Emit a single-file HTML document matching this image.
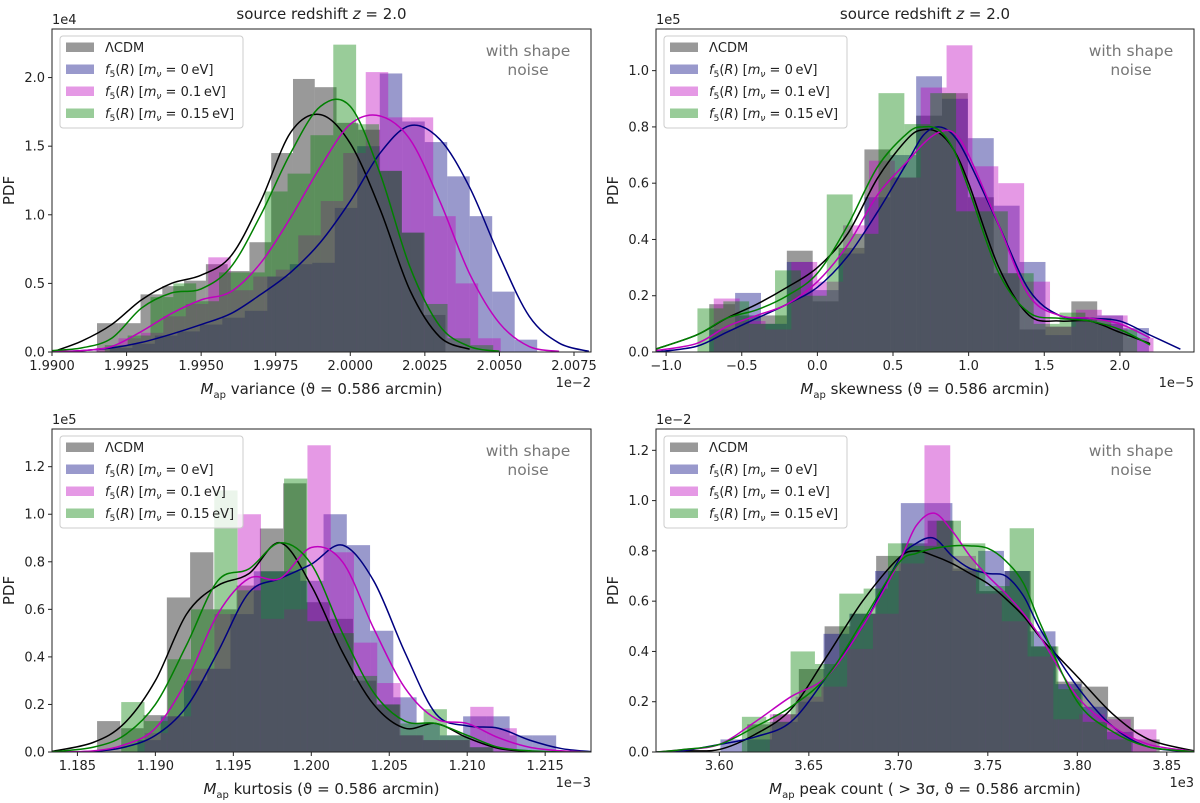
<!DOCTYPE html>
<html><head><meta charset="utf-8"><style>
html,body{margin:0;padding:0;background:#fff;}
svg{display:block;font-family:"DejaVu Sans","Liberation Sans",sans-serif;}
</style></head><body>
<svg id="chart" width="1200" height="803" viewBox="0 0 1200 803" xmlns="http://www.w3.org/2000/svg"></svg>
<script>
// ---------- Panel 1: variance (x in 1e-2, y in 1e4) ----------
const p1Start = [1.991509, 1.99194, 1.99147, 1.99177];
const p1Width = [0.00073, 0.000754, 0.000754, 0.000766];
const p1Gray = [0.21,0.21,0.42,0.48,0.52,0.64,0.59,0.80,1.45,1.99,1.93,1.67,1.62,1.32,0.87,0.27];
const p1Blue = [0.03,0.06,0.12,0.15,0.2,0.25,0.3,0.55,0.64,0.65,1.05,1.5,2.03,1.68,1.53,1.28,0.99,0.44,0.09];
const p1Mag = [0.03,0.1,0.14,0.26,0.35,0.69,0.45,0.55,0.6,0.85,1.1,1.45,2.04,1.71,1.71,0.99,0.5,0.1];
const p1Green = [0.05,0.12,0.4,0.5,0.37,0.58,0.58,1.17,1.3,1.58,2.24,1.66,1.32,0.87,0.35,0.1,0.05];
const p1KdeX = [1.990,1.991,1.992,1.993,1.994,1.995,1.996,1.997,1.998,1.999,2.000,2.001,2.002,2.003,2.004,2.005,2.006,2.007,2.008];
const p1KdeBlack = [0.0,0.08,0.2,0.38,0.5,0.56,0.7,1.1,1.6,1.73,1.52,1.04,0.45,0.11,0.02,null,null,null,null];
const p1KdeBlue = [0,0.01,0.03,0.07,0.13,0.2,0.28,0.42,0.58,0.8,1.1,1.45,1.65,1.55,1.2,0.7,0.26,0.065,0.005];
const p1KdeMag = [0.005,0.01,0.04,0.15,0.28,0.38,0.44,0.65,0.98,1.35,1.66,1.72,1.55,1.1,0.57,0.21,0.04,0.005,null];
const p1KdeGreen = [0.01,0.03,0.1,0.32,0.43,0.46,0.62,1.0,1.45,1.79,1.79,1.3,0.62,0.19,0.04,0.005,null,null,null];
const p1XTicks = ["1.9900","1.9925","1.9950","1.9975","2.0000","2.0025","2.0050","2.0075"];
const p1YTicks = ["0.0","0.5","1.0","1.5","2.0"];

// ---------- Panel 2: skewness (x in 1e-5, y in 1e5) ----------
const p2Start = [-0.715, -0.715, -0.685, -0.793];
const p2Width = [0.171, 0.171, 0.171, 0.171];
const p2Gray = [0.17,0.13,0.13,0.36,0.18,0.37,0.72,0.62,0.84,0.92,0.55,0.28,0.08,0.09,0.18,0.1];
const p2Blue = [0.08,0.21,0.1,0.32,0.22,0.35,0.55,0.7,0.98,0.9,0.76,0.52,0.32,0.06,0.12,0.13,0.085];
const p2Mag = [0.19,0.11,0.08,0.32,0.25,0.45,0.68,0.62,0.94,1.09,0.66,0.6,0.25,0.09,0.15,0.13,0.05];
const p2Green = [0.155,0.18,0.1,0.29,0.2,0.56,0.42,0.92,0.81,0.92,0.5,0.5,0.28,0.1,0.14,0.12,0.08];
const p2KdeX = [-1.07,-0.8,-0.6,-0.4,-0.2,0,0.2,0.4,0.6,0.7,0.8,0.9,1.0,1.2,1.4,1.6,1.8,2.0,2.2,2.4];
const p2KdeBlack = [0.01,0.06,0.12,0.17,0.23,0.3,0.42,0.62,0.76,0.79,0.78,0.72,0.6,0.3,0.13,0.11,0.11,0.07,0.03,null];
const p2KdeBlue = [0.0,0.02,0.07,0.12,0.17,0.23,0.34,0.5,0.68,0.77,0.8,0.77,0.68,0.45,0.22,0.13,0.12,0.11,0.06,0.01];
const p2KdeMag = [0.005,0.03,0.09,0.13,0.17,0.25,0.38,0.56,0.68,0.74,0.78,0.78,0.7,0.45,0.2,0.13,0.12,0.1,0.05,null];
const p2KdeGreen = [0.01,0.06,0.12,0.15,0.2,0.28,0.45,0.66,0.78,0.8,0.79,0.72,0.58,0.28,0.14,0.12,0.11,0.08,0.025,null];
const p2XTicks = ["\u22121.0","\u22120.5","0.0","0.5","1.0","1.5","2.0"];
const p2YTicks = ["0.0","0.2","0.4","0.6","0.8","1.0"];

// ---------- Panel 3: kurtosis (x in 1e-3, y in 1e5) ----------
const p3Start = [1.18626, 1.18885, 1.18931, 1.18781];
const p3Width = [0.001492, 0.001492, 0.001492, 0.001492];
const p3Gray = [0.13,0.1,0.155,0.65,0.84,0.6,0.7,0.94,1.13,0.63,0.56,0.3,0.2,0.07,0.05,0.05,0.02];
const p3Blue = [0.05,0.15,0.3,0.35,0.58,0.76,0.76,0.72,1.0,0.87,0.51,0.23,0.12,0.07,0.15,0.15,0.07,0.07];
const p3Mag = [0.08,0.15,0.35,0.58,1.0,0.56,0.6,1.29,0.84,0.46,0.29,0.07,0.05,0.05,0.19,0.1];
const p3Green = [0.21,0.13,0.39,0.6,1.1,0.68,0.76,1.15,0.55,0.5,0.32,0.2,0.12,0.18,0.07,0.02];
const p3KdeX = [1.1834,1.186,1.188,1.190,1.192,1.194,1.196,1.198,1.200,1.202,1.204,1.206,1.208,1.210,1.212,1.214,1.216,1.2179];
const p3KdeBlack = [0.003,0.04,0.12,0.3,0.58,0.7,0.75,0.88,0.7,0.42,0.2,0.1,0.12,0.06,0.015,0.003,0,0];
const p3KdeBlue = [0,0.003,0.02,0.07,0.19,0.42,0.67,0.73,0.79,0.87,0.72,0.42,0.16,0.11,0.1,0.05,0.015,0.002];
const p3KdeMag = [0,0.005,0.03,0.1,0.3,0.58,0.73,0.73,0.86,0.8,0.52,0.27,0.14,0.12,0.06,0.02,0.005,0];
const p3KdeGreen = [0.001,0.02,0.07,0.2,0.45,0.72,0.77,0.88,0.79,0.5,0.25,0.13,0.12,0.07,0.02,0.005,0,0];
const p3XTicks = ["1.185","1.190","1.195","1.200","1.205","1.210","1.215"];
const p3YTicks = ["0.0","0.2","0.4","0.6","0.8","1.0","1.2"];

// ---------- Panel 4: peak count (x in 1e3, y in 1e-2) ----------
const p4Start = [3.6156, 3.6006, 3.6282, 3.6126];
const p4Width = [0.0144, 0.0144, 0.0144, 0.0136];
const p4Gray = [0.11,0.15,0.33,0.5,0.55,0.78,0.83,0.92,0.73,0.64,0.72,0.42,0.28,0.26,0.14,0.05];
const p4Blue = [0.05,0.05,0.12,0.2,0.47,0.55,0.72,0.99,0.99,0.72,0.8,0.72,0.48,0.27,0.18,0.08];
const p4Mag = [0.15,0.22,0.26,0.41,0.55,0.75,1.22,0.78,0.63,0.52,0.38,0.13,0.15,0.13,0.09];
const p4Green = [0.14,0.12,0.4,0.35,0.63,0.65,0.83,0.82,0.92,0.83,0.66,0.89,0.42,0.25,0.12,0.05];
const p4KdeX = [3.565,3.58,3.60,3.62,3.64,3.66,3.68,3.70,3.71,3.72,3.73,3.74,3.75,3.76,3.77,3.78,3.80,3.82,3.84,3.865];
const p4KdeBlack = [0,0.005,0.01,0.07,0.17,0.38,0.6,0.77,0.8,0.78,0.75,0.71,0.67,0.61,0.54,0.45,0.3,0.15,0.05,0.005];
const p4KdeBlue = [0,0.005,0.03,0.06,0.12,0.3,0.5,0.76,0.83,0.85,0.78,0.73,0.71,0.7,0.62,0.48,0.26,0.1,0.02,0.001];
const p4KdeMag = [0,0.01,0.03,0.12,0.22,0.3,0.5,0.75,0.9,0.95,0.88,0.78,0.7,0.63,0.55,0.45,0.22,0.1,0.03,0.003];
const p4KdeGreen = [0,0.01,0.03,0.1,0.18,0.3,0.52,0.75,0.79,0.81,0.82,0.82,0.81,0.76,0.67,0.5,0.2,0.08,0.02,0.002];
const p4XTicks = ["3.60","3.65","3.70","3.75","3.80","3.85"];
const p4YTicks = ["0.0","0.2","0.4","0.6","0.8","1.0","1.2"];

const NS = "http://www.w3.org/2000/svg";
const svg = document.getElementById('chart');
const fills = ["#000000","#000080","#bf00bf","#008000"];
const lineCols = ["#000000","#000080","#bf00bf","#008000"];
const seriesNames = ["lcdm","f5r-mnu-0","f5r-mnu-0p1","f5r-mnu-0p15"];

function mk(tag, attrs, parent){
  const e = document.createElementNS(NS, tag);
  for (const k in attrs) e.setAttribute(k, attrs[k]);
  parent.appendChild(e);
  return e;
}
function smoothPath(pts){
  if (pts.length < 2) return "";
  let d = "M" + pts[0][0].toFixed(2) + "," + pts[0][1].toFixed(2);
  for (let i = 0; i < pts.length - 1; i++){
    const p0 = pts[Math.max(0,i-1)], p1 = pts[i], p2 = pts[i+1], p3 = pts[Math.min(pts.length-1,i+2)];
    const c1x = p1[0] + (p2[0]-p0[0])/6, c1y = p1[1] + (p2[1]-p0[1])/6;
    const c2x = p2[0] - (p3[0]-p1[0])/6, c2y = p2[1] - (p3[1]-p1[1])/6;
    d += " C" + c1x.toFixed(2) + "," + c1y.toFixed(2) + " " + c2x.toFixed(2) + "," + c2y.toFixed(2) + " " + p2[0].toFixed(2) + "," + p2[1].toFixed(2);
  }
  return d;
}

function drawPanel(cfg){
  const g = mk('g', {}, svg);
  
  
  const X = v => cfg.x0 + (v - cfg.xmin) / (cfg.xmax - cfg.xmin) * (cfg.x1 - cfg.x0);
  const Y = v => cfg.y1 - v / cfg.ymax * (cfg.y1 - cfg.y0);
  const clipId = cfg.name + '-clip';
  const defs = mk('defs', {}, g);
  const cp = mk('clipPath', {id: clipId}, defs);
  mk('rect', {x: cfg.x0, y: cfg.y0, width: cfg.x1 - cfg.x0, height: cfg.y1 - cfg.y0}, cp);
  const plot = mk('g', {'clip-path': 'url(#' + clipId + ')'}, g);
  
  

  // histograms
  cfg.hists.forEach((h, s) => {
    const hg = mk('g', {}, plot);
    
    
    h.forEach((v, i) => {
      const a = cfg.start[s] + i * cfg.width[s];
      const b = a + cfg.width[s];
      const r = mk('rect', {x: X(a), y: Y(v), width: Math.max(0, X(b) - X(a)), height: Math.max(0, Y(0) - Y(v)), fill: fills[s], 'fill-opacity': 0.4}, hg);
      
      
    });
  });
  // kde lines
  cfg.kdes.forEach((k, s) => {
    const pts = [];
    k.forEach((v, i) => { if (v !== null) pts.push([X(cfg.kdeX[i]), Y(v)]); });
    const p = mk('path', {d: smoothPath(pts), fill: 'none', stroke: lineCols[s], 'stroke-width': 1.5}, plot);
    
    
  });

  // frame
  const fr = mk('rect', {x: cfg.x0, y: cfg.y0, width: cfg.x1 - cfg.x0, height: cfg.y1 - cfg.y0, fill: 'none', stroke: '#222', 'stroke-width': 1}, g);
  
  

  // x ticks
  cfg.xTicks.forEach((t, i) => {
    const xv = X(cfg.xTickStart + i * cfg.xTickStep);
    mk('line', {x1: xv, x2: xv, y1: cfg.y1, y2: cfg.y1 + 4, stroke: '#222'}, g);
    const tx = mk('text', {x: xv, y: cfg.y1 + 18, 'text-anchor': 'middle', 'font-size': 13, fill: '#222'}, g);
    tx.textContent = t;
    
    
  });
  // y ticks
  cfg.yTicks.forEach((t, i) => {
    const yv = Y(i * cfg.yTickStep);
    mk('line', {x1: cfg.x0 - 4, x2: cfg.x0, y1: yv, y2: yv, stroke: '#222'}, g);
    const ty = mk('text', {x: cfg.x0 - 7, y: yv + 4.5, 'text-anchor': 'end', 'font-size': 13, fill: '#222'}, g);
    ty.textContent = t;
    
    
  });
  // multipliers
  const my = mk('text', {x: cfg.x0, y: cfg.y0 - 5, 'font-size': 13, fill: '#222'}, g);
  my.textContent = cfg.yMult;
  
  
  const mx = mk('text', {x: cfg.x1, y: cfg.y1 + 35, 'text-anchor': 'end', 'font-size': 13, fill: '#222'}, g);
  mx.textContent = cfg.xMult;
  
  

  // axis labels
  const xl = mk('text', {x: (cfg.x0 + cfg.x1) / 2, y: cfg.y1 + 42, 'text-anchor': 'middle', 'font-size': 15, fill: '#222'}, g);
  xl.innerHTML = '<tspan font-style="italic">M</tspan><tspan font-size="10" dy="4">ap</tspan><tspan dy="-4"> ' + cfg.xLabel + '</tspan>';
  
  
  const yc = (cfg.y0 + cfg.y1) / 2;
  const yl = mk('text', {x: cfg.x0 - 38, y: yc, 'text-anchor': 'middle', 'font-size': 15, fill: '#222', transform: 'rotate(-90 ' + (cfg.x0 - 38) + ' ' + yc + ')'}, g);
  yl.textContent = 'PDF';
  
  

  if (cfg.title){
    const tt = mk('text', {x: (cfg.x0 + cfg.x1) / 2, y: cfg.y0 - 10, 'text-anchor': 'middle', 'font-size': 15, fill: '#222'}, g);
    tt.innerHTML = 'source redshift <tspan font-style="italic">z</tspan> = 2.0';
    
    
  }

  // annotation
  const an = mk('text', {x: cfg.x1 - 63, y: cfg.y0 + 27, 'text-anchor': 'middle', 'font-size': 15.5, fill: '#777'}, g);
  an.innerHTML = '<tspan x="' + (cfg.x1 - 63) + '">with shape</tspan><tspan x="' + (cfg.x1 - 63) + '" dy="19">noise</tspan>';
  
  

  // legend
  const lg = mk('g', {}, g);
  
  
  mk('rect', {x: cfg.x0 + 8, y: cfg.y0 + 7, width: 183, height: 92, rx: 3, fill: '#fff', 'fill-opacity': 0.8, stroke: '#ccc'}, lg);
  const labels = ['\u039BCDM', '0', '0.1', '0.15'];
  labels.forEach((lab, i) => {
    const ry = cfg.y0 + 18 + i * 22;
    const en = mk('g', {}, lg);
    
    
    mk('rect', {x: cfg.x0 + 14, y: ry - 4.5, width: 28, height: 9.5, fill: fills[i], 'fill-opacity': 0.4}, en);
    const t = mk('text', {x: cfg.x0 + 53, y: ry + 5, 'font-size': 13, fill: '#222'}, en);
    if (i === 0) t.textContent = lab;
    else t.innerHTML = '<tspan font-style="italic">f</tspan><tspan font-size="9" dy="3">5</tspan><tspan dy="-3">(<tspan font-style="italic">R</tspan>) [<tspan font-style="italic">m</tspan></tspan><tspan font-size="9" dy="3" font-style="italic">\u03BD</tspan><tspan dy="-3"> = ' + lab + '\u2009eV]</tspan>';
  });
}

drawPanel({name:'panel-variance', x0:52, x1:591, y0:29, y1:352, xmin:1.99, xmax:2.00807, ymax:2.354,
  start:p1Start, width:p1Width, hists:[p1Gray,p1Blue,p1Mag,p1Green], kdeX:p1KdeX, kdes:[p1KdeBlack,p1KdeBlue,p1KdeMag,p1KdeGreen],
  xTicks:p1XTicks, xTickStart:1.99, xTickStep:0.0025, yTicks:p1YTicks, yTickStep:0.5, yMult:'1e4', xMult:'1e\u22122',
  xLabel:'variance (\u03D1 = 0.586 arcmin)', title:true});
drawPanel({name:'panel-skewness', x0:656, x1:1194, y0:29, y1:352, xmin:-1.067, xmax:2.49, ymax:1.148,
  start:p2Start, width:p2Width, hists:[p2Gray,p2Blue,p2Mag,p2Green], kdeX:p2KdeX, kdes:[p2KdeBlack,p2KdeBlue,p2KdeMag,p2KdeGreen],
  xTicks:p2XTicks, xTickStart:-1.0, xTickStep:0.5, yTicks:p2YTicks, yTickStep:0.2, yMult:'1e5', xMult:'1e\u22125',
  xLabel:'skewness (\u03D1 = 0.586 arcmin)', title:true});
drawPanel({name:'panel-kurtosis', x0:52, x1:591, y0:429, y1:752, xmin:1.18337, xmax:1.21794, ymax:1.3585,
  start:p3Start, width:p3Width, hists:[p3Gray,p3Blue,p3Mag,p3Green], kdeX:p3KdeX, kdes:[p3KdeBlack,p3KdeBlue,p3KdeMag,p3KdeGreen],
  xTicks:p3XTicks, xTickStart:1.185, xTickStep:0.005, yTicks:p3YTicks, yTickStep:0.2, yMult:'1e5', xMult:'1e\u22123',
  xLabel:'kurtosis (\u03D1 = 0.586 arcmin)', title:false});
drawPanel({name:'panel-peak-count', x0:656, x1:1194, y0:429, y1:752, xmin:3.5646, xmax:3.8652, ymax:1.2848,
  start:p4Start, width:p4Width, hists:[p4Gray,p4Blue,p4Mag,p4Green], kdeX:p4KdeX, kdes:[p4KdeBlack,p4KdeBlue,p4KdeMag,p4KdeGreen],
  xTicks:p4XTicks, xTickStart:3.60, xTickStep:0.05, yTicks:p4YTicks, yTickStep:0.2, yMult:'1e\u22122', xMult:'1e3',
  xLabel:'peak count ( > 3\u03C3, \u03D1 = 0.586 arcmin)', title:false});
</script>
</body></html>
